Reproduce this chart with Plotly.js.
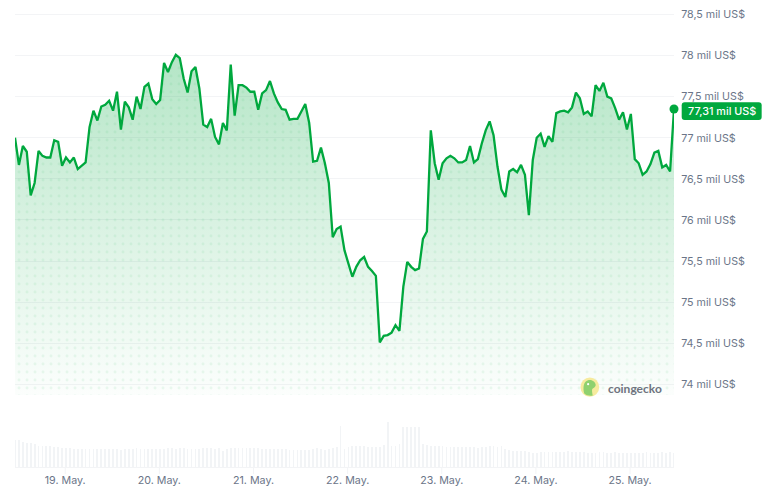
<!DOCTYPE html>
<html><head><meta charset="utf-8">
<script src="https://cdn.plot.ly/plotly-3.0.1.min.js"></script>
<style>html,body{margin:0;padding:0;background:#fff}#c{width:776px;height:493px}</style></head>
<body><div id="c"></div>
<script>
const prices=[77.00,76.67,76.90,76.83,76.30,76.45,76.84,76.78,76.76,76.76,76.97,76.95,76.66,76.76,76.70,76.76,76.62,76.66,76.70,77.13,
77.33,77.21,77.38,77.40,77.45,77.33,77.56,77.10,77.44,77.37,77.22,77.50,77.35,77.62,77.66,77.47,77.41,77.46,77.91,77.80,
77.92,78.01,77.97,77.72,77.55,77.81,77.86,77.60,77.16,77.13,77.23,77.01,76.92,77.18,77.09,77.89,77.27,77.64,77.64,77.61,
77.56,77.56,77.34,77.54,77.58,77.69,77.54,77.43,77.35,77.34,77.22,77.23,77.23,77.32,77.41,77.18,76.71,76.72,76.88,76.69,
76.45,75.79,75.89,75.92,75.63,75.47,75.31,75.43,75.51,75.55,75.43,75.38,75.32,74.51,74.59,74.60,74.63,74.72,74.65,75.19,
75.49,75.43,75.39,75.41,75.77,75.86,77.09,76.69,76.49,76.69,76.75,76.78,76.75,76.70,76.70,76.73,76.90,76.70,76.74,76.93,
77.09,77.20,77.03,76.65,76.37,76.28,76.59,76.62,76.58,76.67,76.55,76.06,76.73,77.00,77.05,76.89,77.02,76.95,77.30,77.32,
77.33,77.31,77.37,77.55,77.48,77.29,77.32,77.26,77.64,77.57,77.67,77.50,77.48,77.36,77.22,77.31,77.10,77.29,76.74,76.69,
76.55,76.59,76.68,76.82,76.84,76.64,76.67,76.59,77.35];
const volumes=[27,27,25,24,24,23,21,21,21,21,20,20,19,19,19,18,18,18,18,18,
18,18,18,18,18,18,18,17,18,18,18,19,18,18,18,18,18,18,18,19,
19,18,19,19,18,18,18,18,19,19,19,18,19,16,18,19,19,19,19,19,
19,19,19,18,18,18,18,18,18,18,17,17,17,17,17,17,18,19,18,17,
18,19,20,41,18,20,21,21,21,21,20,20,20,20,22,45,21,21,23,40,
40,40,40,40,23,22,21,21,21,21,20,20,20,20,20,20,20,20,19,20,
20,21,21,20,21,18,17,16,16,16,16,15,14,14,15,15,15,15,15,15,
15,16,15,15,15,15,14,14,14,15,15,14,14,15,14,14,14,14,14,14,
14,15,14,14,14,15,14,15,14];
const yTicks=[74,74.5,75,75.5,76,76.5,77,77.5,78,78.5];
const yLabels=['74 mil US$','74,5 mil US$','75 mil US$','75,5 mil US$','76 mil US$','76,5 mil US$','77 mil US$','77,5 mil US$','78 mil US$','78,5 mil US$'];
const xTicks=['2025-05-19','2025-05-20','2025-05-21','2025-05-22','2025-05-23','2025-05-24','2025-05-25'];
const xLabels=['19. May.','20. May.','21. May.','22. May.','23. May.','24. May.','25. May.'];
const lastLabel='77,31 mil US$';
const startMs=Date.UTC(2025,4,18,11,12), hour=3600000;
const times=prices.map((_,i)=>startMs+i*hour);
const green='#00a83e', grid='#f3f4f6', textCol='#6b7588';
const W=776,H=493;
const fx=x=>(x-15)/(674.3-15), fy=y=>(467-y)/467;
const traces=[
 {type:'bar',x:times,y:volumes,yaxis:'y2',width:times.map(()=>0.2*hour),marker:{color:'#f2f4f6',line:{width:0}},hoverinfo:'skip',showlegend:false},
 {type:'scatter',mode:'none',x:times,y:prices,fill:'tozeroy',fillcolor:'rgba(0,168,62,0.2)',
  fillgradient:{type:'vertical',start:73.9,stop:78.05,colorscale:[[0,'rgba(0,168,62,0.015)'],[0.5,'rgba(0,168,62,0.15)'],[1,'rgba(0,168,62,0.3)']]},hoverinfo:'skip',showlegend:false},
 {type:'scatter',mode:'none',x:times,y:prices,fill:'tozeroy',fillcolor:'rgba(0,0,0,0)',
  fillpattern:{shape:'.',size:8,solidity:0.1,fgcolor:'#00a83e',fgopacity:0.07,bgcolor:'rgba(0,0,0,0)'},hoverinfo:'skip',showlegend:false},
 {type:'scatter',mode:'lines',x:times,y:prices,line:{color:green,width:2.3,shape:'linear'},showlegend:false},
 {type:'scatter',mode:'markers',x:[times[times.length-1]],y:[prices[prices.length-1]],marker:{color:green,size:9},cliponaxis:false,showlegend:false}
];
const r=3,bx0=682,bx1=762,by0=102.3,by1=120;
const P=(x,y)=>fx(x).toFixed(5)+' '+fy(y).toFixed(5);
const badge=`M ${P(bx0+r,by0)} L ${P(bx1-r,by0)} Q ${P(bx1,by0)} ${P(bx1,by0+r)} L ${P(bx1,by1-r)} Q ${P(bx1,by1)} ${P(bx1-r,by1)} L ${P(bx0+r,by1)} Q ${P(bx0,by1)} ${P(bx0,by1-r)} L ${P(bx0,by0+r)} Q ${P(bx0,by0)} ${P(bx0+r,by0)} Z`;
const gecko=`M ${P(584.5,393.5)} C ${P(583,388)} ${P(583.5,381)} ${P(589,380)} C ${P(593,379.5)} ${P(595.5,382)} ${P(596,385)} C ${P(596,387)} ${P(593.5,388)} ${P(592.5,389)} C ${P(592,391)} ${P(592.5,393)} ${P(593,395.5)} C ${P(590,396)} ${P(586.5,395.5)} ${P(584.5,393.5)} Z`;
const dayTicks=xTicks.map(t=>({type:'line',xref:'x',yref:'paper',x0:t,x1:t,y0:0,y1:-7/467,line:{color:grid,width:1},layer:'below'}));
const layout={
 width:W,height:H,paper_bgcolor:'#fff',plot_bgcolor:'#fff',
 margin:{l:15,r:101.7,t:0,b:26,pad:0},bargap:0,hovermode:false,showlegend:false,
 font:{family:'Inter, sans-serif',size:10.7,color:textCol},
 xaxis:{type:'date',range:[times[0],times[times.length-1]],tickvals:xTicks,ticktext:xLabels,tickmode:'array',ticks:'outside',ticklen:3,tickcolor:'rgba(0,0,0,0)',tickwidth:1,
   showgrid:false,showline:true,linecolor:grid,linewidth:1,zeroline:false,anchor:'y2',tickfont:{family:'Inter, sans-serif',size:10.7,color:textCol}},
 yaxis:{domain:[fy(395),1],range:[73.871,78.676],side:'right',tickmode:'array',tickvals:yTicks,ticktext:yLabels,showgrid:true,gridcolor:grid,gridwidth:1,zeroline:false,showline:false,
   ticks:'outside',ticklen:4,tickcolor:'rgba(0,0,0,0)',anchor:'x',tickfont:{family:'Inter, sans-serif',size:10.7,color:textCol}},
 yaxis2:{domain:[0,0.1],range:[0,46.7],visible:false,fixedrange:true,anchor:'x'},
 shapes:[...dayTicks,
  {type:'path',xref:'paper',yref:'paper',path:badge,fillcolor:green,line:{width:0},layer:'above'},
  {type:'circle',xref:'paper',yref:'paper',x0:fx(580.7),x1:fx(599.5),y0:fy(396.7),y1:fy(377.5),fillcolor:'#f6eb9e',line:{width:0},layer:'above'},
  {type:'path',xref:'paper',yref:'paper',path:gecko,fillcolor:'#8fd16f',line:{width:0},layer:'above'},
  {type:'circle',xref:'paper',yref:'paper',x0:fx(587.3),x1:fx(589.5),y0:fy(385.3),y1:fy(383),fillcolor:'#ffffff',line:{width:0},layer:'above'}
 ],
 annotations:[
  {xref:'paper',yref:'paper',x:fx(722),y:fy(111),text:lastLabel,showarrow:false,xanchor:'center',yanchor:'middle',font:{family:'Inter, sans-serif',size:10.8,weight:500,color:'#fff'}},
  {xref:'paper',yref:'paper',x:fx(606.5),y:fy(388.5),text:'<b>coingecko</b>',showarrow:false,xanchor:'left',yanchor:'middle',font:{family:'Lato, sans-serif',size:12,color:'#6f7480'}}
 ]
};
Plotly.newPlot('c',traces,layout,{displayModeBar:false,responsive:false});
</script></body></html>
